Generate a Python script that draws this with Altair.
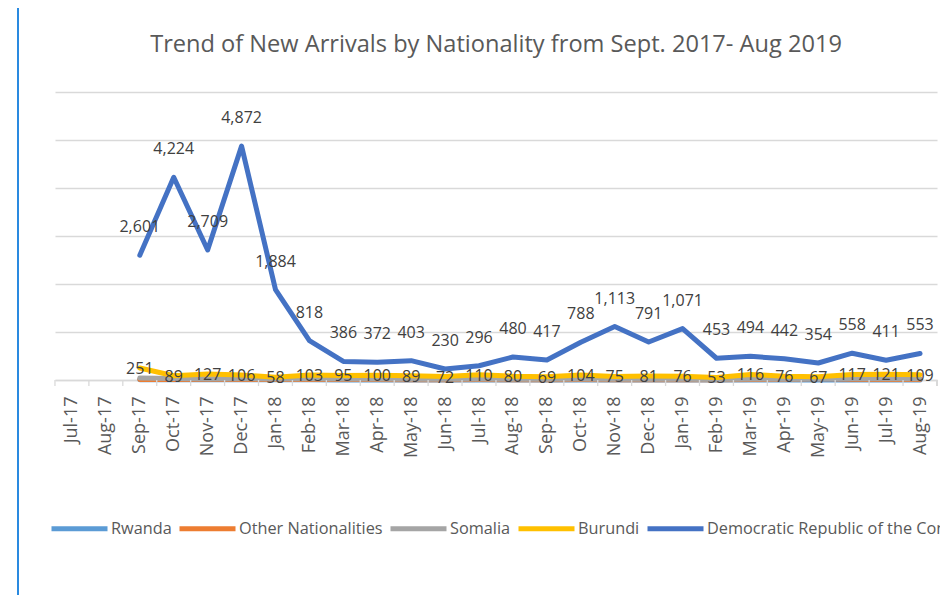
import altair as alt
import pandas as pd

months = ["Jul-17", "Aug-17", "Sep-17", "Oct-17", "Nov-17", "Dec-17",
          "Jan-18", "Feb-18", "Mar-18", "Apr-18", "May-18", "Jun-18",
          "Jul-18", "Aug-18", "Sep-18", "Oct-18", "Nov-18", "Dec-18",
          "Jan-19", "Feb-19", "Mar-19", "Apr-19", "May-19", "Jun-19",
          "Jul-19", "Aug-19"]

drc = [None, None, 2601, 4224, 2709, 4872, 1884, 818, 386, 372, 403, 230,
       296, 480, 417, 788, 1113, 791, 1071, 453, 494, 442, 354, 558, 411, 553]
burundi = [None, None, 251, 89, 127, 106, 58, 103, 95, 100, 89, 72,
           110, 80, 69, 104, 75, 81, 76, 53, 116, 76, 67, 117, 121, 109]
somalia = [None, None, 40, 30, 25, 28, 20, 25, 22, 20, 18, 15,
           20, 18, 15, 20, 18, 15, 14, 12, 20, 18, 25, 30, 28, 25]
other = [None, None, 10, 8, 15, 10, 8, 10, 8, 8, 6, 6,
         8, 6, 6, 8, 6, 6, 6, 5, 8, 10, 30, 15, 12, 10]
rwanda = [None, None, 5, 4, 4, 3, 3, 3, 2, 2, 2, 2,
          2, 2, 2, 2, 2, 2, 2, 2, 2, 2, 2, 2, 2, 2]

series_names = ["Rwanda", "Other Nationalities", "Somalia", "Burundi",
                "Democratic Republic of the Congo"]
series_colors = ["#5B9BD5", "#ED7D31", "#A5A5A5", "#FFC000", "#4472C4"]
series_values = [rwanda, other, somalia, burundi, drc]

rows = []
for name, vals in zip(series_names, series_values):
    for m, v in zip(months, vals):
        if v is not None:
            rows.append({"month": m, "series": name, "value": v})
df = pd.DataFrame(rows)
months_df = pd.DataFrame({"month": months})

FONT = "Open Sans"
xscale = alt.Scale(domain=months, type="point", padding=0.5)
yscale = alt.Scale(domain=[0, 6000])

x_enc = alt.X("month:N", sort=months, scale=xscale, title=None,
              axis=alt.Axis(labelAngle=270, labelFontSize=18, labelColor="#595959",
                            labelFont=FONT, ticks=False, labelPadding=16,
                            domainColor="#d9d9d9", domainWidth=1.5, grid=False))
y_enc = alt.Y("value:Q", scale=yscale, title=None,
              axis=alt.Axis(values=[0, 1000, 2000, 3000, 4000, 5000, 6000],
                            labels=False, ticks=False, domain=False,
                            grid=True, gridColor="#d9d9d9", gridWidth=1.3))

color_enc = alt.Color("series:N",
                      scale=alt.Scale(domain=series_names, range=series_colors),
                      legend=alt.Legend(title=None, orient="none", direction="horizontal",
                                        columns=5, legendX=-6, legendY=406,
                                        symbolType="stroke", symbolStrokeWidth=5,
                                        symbolSize=3136, labelFontSize=16.3,
                                        labelFont=FONT, labelColor="#595959",
                                        labelOffset=1, columnPadding=-3,
                                        labelLimit=400, padding=0))

layers = []
for name in series_names:
    layers.append(
        alt.Chart(df).transform_filter(alt.datum.series == name)
        .mark_line(strokeWidth=5, strokeCap="round", strokeJoin="round")
        .encode(x=x_enc, y=y_enc, color=color_enc)
    )

ticks = alt.Chart(months_df).mark_rule(color="#d9d9d9", strokeWidth=1.3, xOffset=-17).encode(
    x=alt.X("month:N", sort=months, scale=xscale),
    y=alt.value(288), y2=alt.value(294))
last_tick = alt.Chart(months_df).mark_rule(color="#d9d9d9", strokeWidth=1.3).encode(
    x=alt.value(882), y=alt.value(288), y2=alt.value(294))

drc_labels = alt.Chart(df).transform_filter(
    alt.datum.series == "Democratic Republic of the Congo"
).mark_text(font=FONT, fontSize=16, color="#404040", dy=-28, baseline="middle").encode(
    x=alt.X("month:N", sort=months, scale=xscale),
    y=alt.Y("value:Q", scale=yscale),
    text=alt.Text("value:Q", format=","))

bur_labels = alt.Chart(df).transform_filter(
    alt.datum.series == "Burundi"
).mark_text(font=FONT, fontSize=16, color="#404040", dy=1, baseline="middle").encode(
    x=alt.X("month:N", sort=months, scale=xscale),
    y=alt.Y("value:Q", scale=yscale),
    text=alt.Text("value:Q", format=","))

border = alt.Chart(months_df).mark_rule(color="#2a8ae0", strokeWidth=2).encode(
    x=alt.value(-37), y=alt.value(-92), y2=alt.value(510))

chart = alt.layer(*layers, ticks, last_tick, bur_labels, drc_labels, border).properties(
    width=882, height=288,
    title=alt.TitleParams("Trend of New Arrivals by Nationality from Sept. 2017- Aug 2019",
                          font=FONT, fontSize=23.6, fontWeight="normal", color="#595959",
                          offset=-58, anchor="middle", frame="group"),
    autosize=alt.AutoSizeParams(type="none"),
    padding={"left": 47, "top": 84, "right": 3, "bottom": 215},
).configure_view(stroke=None)

chart.save("out.html", embed_options={"renderer": "svg", "actions": False})
